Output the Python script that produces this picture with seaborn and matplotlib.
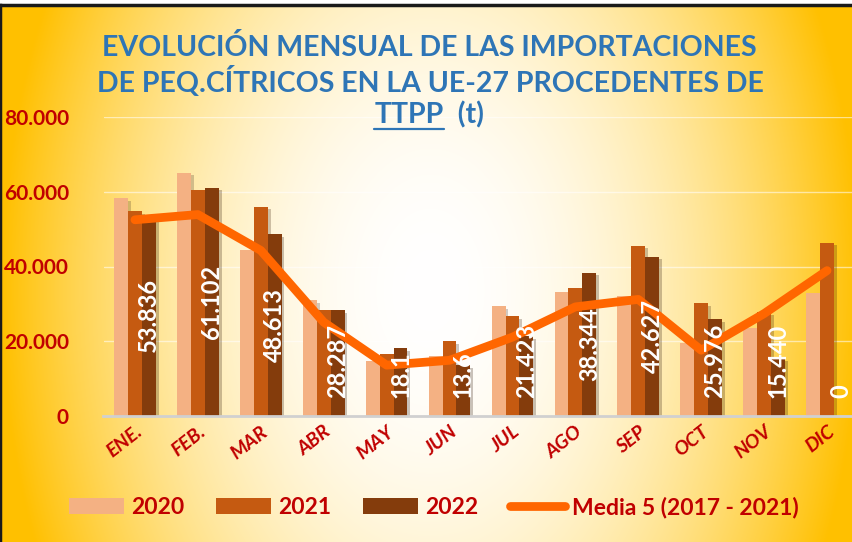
import matplotlib
matplotlib.use("Agg")
import matplotlib.pyplot as plt
import matplotlib.patheffects as pe
from matplotlib.patches import Patch
from matplotlib.lines import Line2D
import numpy as np
import pandas as pd
import seaborn as sns

# Datos (toneladas)
meses = ["ENE.", "FEB.", "MAR", "ABR", "MAY", "JUN", "JUL", "AGO", "SEP", "OCT", "NOV", "DIC"]
y2020 = [58200, 65100, 44300, 31100, 14800, 16000, 29500, 33300, 32100, 19600, 23500, 32800]
y2021 = [54800, 60600, 56000, 28400, 16500, 20000, 26700, 34200, 45600, 30300, 27800, 46400]
y2022 = [53836, 61102, 48613, 28287, 18100, 13600, 21423, 38344, 42627, 25976, 15440, 0]
media5 = [52500, 53900, 44300, 25100, 13600, 14900, 21100, 29200, 31200, 17600, 27400, 38900]
etiquetas_2022 = ["53.836", "61.102", "48.613", "28.287", "18.1", "13.6",
                  "21.423", "38.344", "42.627", "25.976", "15.440", "0"]
anios = ["2020", "2021", "2022"]
colores = ["#F4B183", "#C55A11", "#843C0C"]
naranja = "#FF6600"
rojo = "#C00000"
azul = "#2E75B6"

df = pd.DataFrame({
    "mes": meses * 3,
    "anio": sum([[a] * 12 for a in anios], []),
    "t": y2020 + y2021 + y2022,
})

sns.set_theme(style="white")
plt.rcParams["font.family"] = ["Lato", "DejaVu Sans"]

W, H = 852, 542
fig = plt.figure(figsize=(W / 100, H / 100), dpi=100, facecolor="white")

# fondo con degradado radial (blanco en el centro, dorado en los bordes)
bg = fig.add_axes([0, 0, 1, 537 / 542], zorder=-10)
X, Y = np.meshgrid(np.arange(W), np.arange(537))
t = np.sqrt(((X - 430) / 430) ** 2 + ((Y - 285) / 650) ** 2)
t = np.clip(t, 0, 1) ** 2
oro = np.array([255, 192, 0]) / 255
img = (1 - t)[..., None] * np.ones(3) + t[..., None] * oro
bg.imshow(img, aspect="auto", extent=[0, 1, 0, 1], origin="upper")
bg.set_xlim(0, 1)
bg.set_ylim(0, 1)
bg.set_xticks([])
bg.set_yticks([])
for s in ["right", "bottom"]:
    bg.spines[s].set_visible(False)
for s in ["top", "left"]:
    bg.spines[s].set_color("#1a1a1a")
    bg.spines[s].set_linewidth(2.5)

ax = fig.add_axes([103.5 / W, 126 / H, 755 / W, 299 / H])
ax.patch.set_alpha(0)

sns.barplot(data=df, x="mes", y="t", hue="anio", order=meses, hue_order=anios,
            palette=colores, width=0.663, gap=0, saturation=1, legend=False, ax=ax)
for bar in ax.patches:
    bar.set_linewidth(0)
    bar.set_path_effects([pe.withSimplePatchShadow(offset=(2, -2), alpha=0.25)])

sns.pointplot(x=meses, y=media5, color=naranja, markers="", errorbar=None,
              linewidth=6.3, ax=ax)
for ln in ax.lines:
    ln.set_solid_capstyle("round")
    ln.set_solid_joinstyle("round")
    ln.set_zorder(5)

ax.set_ylim(0, 80000)
ax.set_xlim(-0.5, 11.5)
ax.set_yticks(range(0, 80001, 20000))
ax.set_yticklabels([f"{v:,}".replace(",", ".") for v in range(0, 80001, 20000)],
                   color=rojo, fontsize=15, fontweight="bold")
ax.tick_params(axis="y", length=0, pad=25)
ax.set_xticks(range(12))
ax.set_xticklabels(meses, rotation=38, ha="right", rotation_mode="anchor",
                   color=rojo, fontsize=14, fontweight="bold", fontstyle="italic")
ax.tick_params(axis="x", length=0, pad=5)
ax.set_xlabel("")
ax.set_ylabel("")
for s in ["top", "right", "left"]:
    ax.spines[s].set_visible(False)
ax.spines["bottom"].set_color("#D0D0D0")
ax.spines["bottom"].set_linewidth(2)
ax.yaxis.grid(True, color="white", alpha=0.55, linewidth=1)
ax.set_axisbelow(True)

# etiquetas de 2022 dentro de las barras
off = 0.663 / 3
textos = []
for i, (v, lab) in enumerate(zip(y2022, etiquetas_2022)):
    tx = ax.text(i + off, v / 2, lab, rotation=90, ha="center", va="center",
                 color="white", fontsize=17, fontweight="bold", zorder=6)
    textos.append((tx, i, v))

# títulos
tit_kw = dict(ha="center", va="center", color=azul, fontsize=20.5, fontweight="bold")
fig.text(429 / W, 1 - 47 / H, "EVOLUCIÓN MENSUAL DE LAS IMPORTACIONES", **tit_kw)
fig.text(430 / W, 1 - 81 / H, "DE PEQ.CÍTRICOS EN LA UE-27 PROCEDENTES DE", **tit_kw)
t1 = fig.text(0, 1 - 115 / H, "TTPP", **tit_kw)
t2 = fig.text(0, 1 - 115 / H, "  (t)", **tit_kw)

# leyenda
handles = [Patch(facecolor=c, edgecolor="none") for c in colores]
handles.append(Line2D([0], [0], color=naranja, lw=6.3, solid_capstyle="round"))
fig.legend(handles, anios + ["Media 5 (2017 - 2021)"], loc="center",
           bbox_to_anchor=(434 / W, 1 - 507 / H), ncol=4, frameon=False,
           prop={"size": 16.5, "weight": "bold"}, labelcolor=rojo,
           handlelength=2.4, handleheight=0.7, handletextpad=0.3, columnspacing=1.4)

fig.canvas.draw()
r = fig.canvas.get_renderer()
# línea 3 del título centrada con TTPP subrayado
w1 = t1.get_window_extent(r).width
w2 = t2.get_window_extent(r).width
x0 = 429 - (w1 + w2) / 2
t1.set_ha("left")
t2.set_ha("left")
t1.set_x(x0 / W)
t2.set_x((x0 + w1) / W)
fig.canvas.draw()
bb = t1.get_window_extent(r)
fig.add_artist(Line2D([bb.x0 / W, bb.x1 / W], [(bb.y0 - 1) / H] * 2, color=azul, lw=1.6))

# etiquetas que no caben se apoyan en la base
base = 4800
inv = ax.transData.inverted()
for tx, i, v in textos:
    bbt = tx.get_window_extent(r)
    y0 = inv.transform((0, bbt.y0))[1]
    if y0 < base:
        tx.set_va("bottom")
        tx.set_y(base)

fig.savefig("out.png", dpi=100)
